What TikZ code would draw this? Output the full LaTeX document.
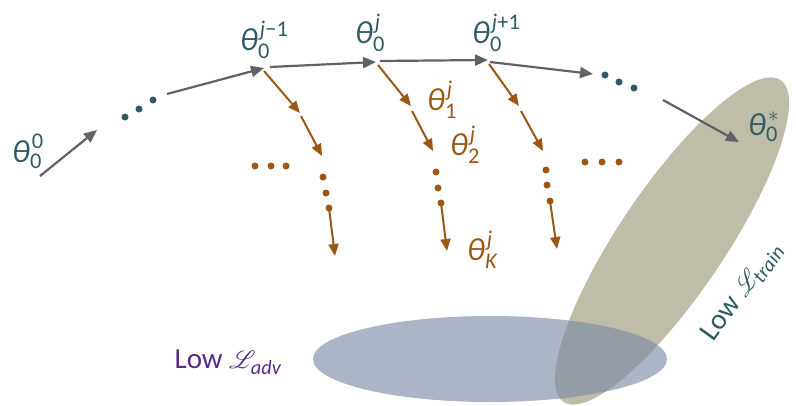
\documentclass[tikz,border=0pt]{standalone}
\usepackage{amsmath}
\usepackage{fontspec}
\setmainfont{Carlito}
\usepackage{mathrsfs}
\usetikzlibrary{arrows.meta}
\definecolor{tealc}{RGB}{47,90,102}
\definecolor{grayc}{RGB}{95,98,102}
\definecolor{brownc}{RGB}{155,87,20}
\definecolor{purplec}{RGB}{88,40,140}
\definecolor{khakic}{RGB}{191,188,167}
\definecolor{bluegc}{RGB}{124,139,164}
\newcommand{\myth}{\text{\itshape θ\/\kern0.06em}}
\newcommand{\myj}{\text{\itshape j\/}}
\newcommand{\mysub}[1]{\text{\kern-0.08em #1}}
\begin{document}
\begin{tikzpicture}[x=1pt,y=-1pt,
  garrow/.style={draw=grayc, line width=2.2pt, -{Triangle[length=13pt,width=11pt]}},
  barrow/.style={draw=brownc, line width=2pt, -{Triangle[length=12pt,width=10pt]}},
  tdot/.style={circle, fill=tealc, inner sep=0pt, minimum size=7pt},
  bdot/.style={circle, fill=brownc, inner sep=0pt, minimum size=7pt},
  tlab/.style={text=tealc, font=\fontsize{32}{34}\selectfont, inner sep=0pt, anchor=base west},
  blab/.style={text=brownc, font=\fontsize{32}{34}\selectfont, inner sep=0pt, anchor=base west},
  lowlab/.style={font=\fontsize{29}{32}\selectfont, inner sep=0pt}]
\useasboundingbox (0,0) rectangle (796,405);
% regions
\fill[khakic, rotate around={56:(672,241)}] (672,241) ellipse [x radius=194pt, y radius=53pt];
\fill[bluegc, fill opacity=0.64] (490,359) ellipse [x radius=177pt, y radius=43pt];
\node[lowlab, text=purplec] (ladv) at (228,362) {Low $\mathscr{L}_{\text{\itshape adv}}$};
\node[lowlab, text=tealc, rotate=54] (ltrain) at (742,292) {Low $\mathscr{L}_{\text{\itshape train}}$};
% theta labels
\node[tlab] (t00) at (12,162) {$\myth_{\mysub{0}}^{\text{0}}$};
\node[tlab] (tjm) at (240,50) {$\myth_{\mysub{0}}^{\myj\text{−1}}$};
\node[tlab] (tj) at (355,43) {$\myth_{\mysub{0}}^{\myj}$};
\node[tlab] (tjp) at (472,43) {$\myth_{\mysub{0}}^{\myj\text{+1}}$};
\node[tlab] (tst) at (748,135) {$\myth_{\mysub{0}}^{*}$};
\node[blab] (t1) at (427,110) {$\myth_{\mysub{1}}^{\myj}$};
\node[blab] (t2) at (450,155) {$\myth_{\mysub{2}}^{\myj}$};
\node[blab] (tK) at (467,260) {$\myth_{\mysub{\itshape K}}^{\myj}$};
% trajectory points
\coordinate (s0) at (40,176);
\coordinate (e0) at (97,130);
\node[tdot] (d1) at (125,117) {};
\node[tdot] (d2) at (139,109) {};
\node[tdot] (d3) at (153,100) {};
\coordinate (s1) at (167,94);
\coordinate (p1) at (264,68);
\coordinate (p1b) at (270,67);
\coordinate (p2) at (376,62);
\coordinate (p2b) at (380,61);
\coordinate (p3) at (488,60);
\coordinate (p3b) at (490,62);
\coordinate (e4) at (593,74);
\node[tdot] (d4) at (605,75) {};
\node[tdot] (d5) at (619,82) {};
\node[tdot] (d6) at (634,88) {};
\coordinate (s5) at (663,100);
\coordinate (e5) at (739,142);
\draw[garrow] (s0) -- (e0);
\draw[garrow] (s1) -- (p1);
\draw[garrow] (p1b) -- (p2);
\draw[garrow] (p2b) -- (p3);
\draw[garrow] (p3b) -- (e4);
\draw[garrow] (s5) -- (e5);
% inner loop column 1
\coordinate (c1a) at (264,71);
\coordinate (c1b) at (300,113);
\coordinate (c1c) at (301,116);
\coordinate (c1d) at (322,156);
\node[bdot] (c1d1) at (323,177) {};
\node[bdot] (c1d2) at (326,193) {};
\node[bdot] (c1d3) at (329,208) {};
\coordinate (c1e) at (335,256);
\draw[barrow] (c1a) -- (c1b);
\draw[barrow] (c1c) -- (c1d);
\draw[barrow] (c1d3.center) -- (c1e);
\node[bdot] (h1) at (255,166) {};
\node[bdot] (h2) at (271,166) {};
\node[bdot] (h3) at (286,166) {};
% column 2
\coordinate (c2a) at (378,65);
\coordinate (c2b) at (411,106);
\coordinate (c2c) at (412,111);
\coordinate (c2d) at (433,151);
\node[bdot] (c2d1) at (436,172) {};
\node[bdot] (c2d2) at (438,188) {};
\node[bdot] (c2d3) at (441,203) {};
\coordinate (c2e) at (447,251);
\draw[barrow] (c2a) -- (c2b);
\draw[barrow] (c2c) -- (c2d);
\draw[barrow] (c2d3.center) -- (c2e);
% column 3
\coordinate (c3a) at (489,64);
\coordinate (c3b) at (519,106);
\coordinate (c3c) at (521,111);
\coordinate (c3d) at (543,151);
\node[bdot] (c3d1) at (546,170) {};
\node[bdot] (c3d2) at (547,185) {};
\node[bdot] (c3d3) at (550,201) {};
\coordinate (c3e) at (557,249);
\draw[barrow] (c3a) -- (c3b);
\draw[barrow] (c3c) -- (c3d);
\draw[barrow] (c3d3.center) -- (c3e);
\node[bdot] (h4) at (585,162) {};
\node[bdot] (h5) at (602,162) {};
\node[bdot] (h6) at (619,162) {};
\end{tikzpicture}
\end{document}
